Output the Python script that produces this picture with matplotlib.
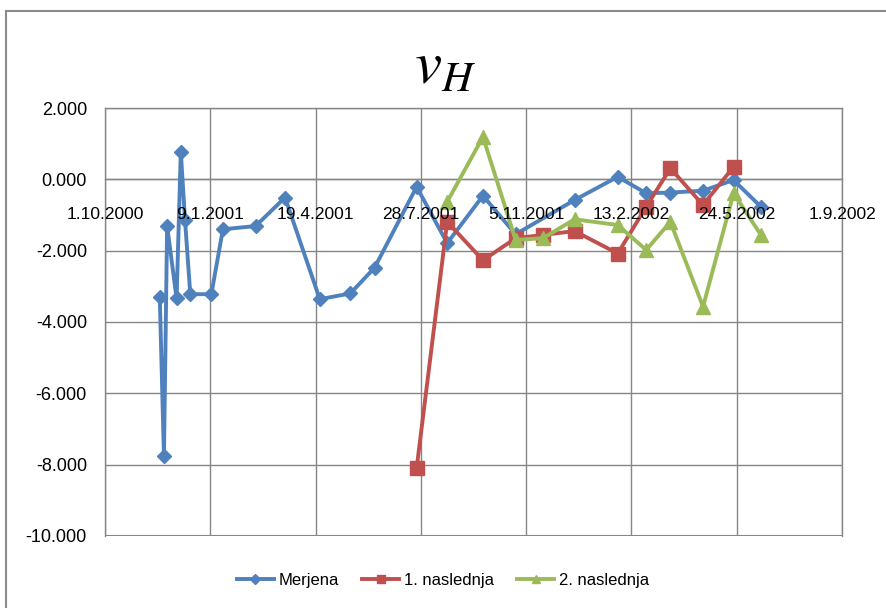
import datetime as dt
import matplotlib
matplotlib.use('Agg')
import matplotlib.pyplot as plt
from matplotlib.patches import Rectangle
from matplotlib.lines import Line2D

plt.rcParams['font.family'] = ['Liberation Sans', 'DejaVu Sans']
plt.rcParams['mathtext.fontset'] = 'stix'

# izmerjene vrednosti
merjena_dates = ['2000-11-22', '2000-11-26', '2000-11-29', '2000-12-08', '2000-12-12',
                 '2000-12-16', '2000-12-21', '2001-01-10', '2001-01-21', '2001-02-21',
                 '2001-03-21', '2001-04-23', '2001-05-22', '2001-06-14', '2001-07-24',
                 '2001-08-22', '2001-09-25', '2001-10-26', '2001-12-21', '2002-01-31',
                 '2002-02-27', '2002-03-22', '2002-04-22', '2002-05-21', '2002-06-16']
merjena = [-3.29, -7.76, -1.31, -3.34, 0.77,
           -1.14, -3.22, -3.22, -1.40, -1.31,
           -0.51, -3.36, -3.20, -2.48, -0.21,
           -1.79, -0.46, -1.54, -0.58, 0.07,
           -0.39, -0.37, -0.32, -0.02, -0.77]

# napoved za 1 korak naprej
nasl1_dates = ['2001-07-24', '2001-08-22', '2001-09-25', '2001-10-26', '2001-11-21',
               '2001-12-21', '2002-01-31', '2002-02-27', '2002-03-22', '2002-04-22',
               '2002-05-21']
nasl1 = [-8.10, -1.19, -2.27, -1.65, -1.56,
         -1.45, -2.08, -0.77, 0.31, -0.72,
         0.35]

# napoved za 2 koraka naprej
nasl2_dates = ['2001-08-22', '2001-09-25', '2001-10-26', '2001-11-21', '2001-12-21',
               '2002-01-31', '2002-02-27', '2002-03-22', '2002-04-22', '2002-05-21',
               '2002-06-16']
nasl2 = [-0.63, 1.19, -1.70, -1.65, -1.12,
         -1.28, -1.98, -1.19, -3.57, -0.39,
         -1.56]

tick_dates = ['2000-10-01', '2001-01-09', '2001-04-19', '2001-07-28',
              '2001-11-05', '2002-02-13', '2002-05-24', '2002-09-01']
tick_labels = ['1.10.2000', '9.1.2001', '19.4.2001', '28.7.2001',
               '5.11.2001', '13.2.2002', '24.5.2002', '1.9.2002']


def to_dates(lst):
    return [dt.datetime.strptime(s, '%Y-%m-%d') for s in lst]


blue, red, green = '#4F81BD', '#C0504D', '#9BBB59'
grid_c = '#868686'

fig = plt.figure(figsize=(8.86, 6.08), dpi=100)
ax = fig.add_axes([105 / 886, 1 - 536 / 608, 737 / 886, 428 / 608])

ax.plot(to_dates(merjena_dates), merjena, color=blue, lw=2.8, marker='D',
        ms=7.5, label='Merjena', zorder=3)
ax.plot(to_dates(nasl1_dates), nasl1, color=red, lw=2.8, marker='s',
        ms=10, label='1. naslednja', zorder=4)
ax.plot(to_dates(nasl2_dates), nasl2, color=green, lw=2.8, marker='^',
        ms=10.5, label='2. naslednja', zorder=5)

ax.set_xlim(to_dates(['2000-10-01', '2002-09-01']))
ax.set_ylim(-10, 2)
ax.set_xticks(to_dates(tick_dates))
ax.set_xticklabels(tick_labels)
ax.set_yticks(range(-10, 3, 2))
ax.set_yticklabels([f'{v:.3f}' for v in range(-10, 3, 2)])

# mreza pod krivuljami, datumi na osi pa nad njimi
ax.set_axisbelow(True)
ax.grid(True, axis='y', color=grid_c, lw=1)
for d in to_dates(tick_dates):
    ax.axvline(d, color=grid_c, lw=1, zorder=1)
ax.xaxis.set_zorder(10)

for s in ax.spines.values():
    s.set_color(grid_c)
    s.set_linewidth(1)
ax.spines['bottom'].set_position(('data', 0))
ax.axhline(-10, color=grid_c, lw=1.5, zorder=1)
ax.tick_params(axis='x', length=0, pad=20, labelsize=12.5, colors='black')
ax.tick_params(axis='y', length=0, pad=13, labelsize=13, colors='black')

fig.text(0.502, 1 - 68 / 608, r'$v_H$', fontsize=44, ha='center', va='center')

handles = [
    Line2D([], [], color=blue, lw=2.8, marker='D', ms=5),
    Line2D([], [], color=red, lw=2.8, marker='s', ms=6),
    Line2D([], [], color=green, lw=2.8, marker='^', ms=6),
]
fig.legend(handles, ['Merjena', '1. naslednja', '2. naslednja'], loc='center',
           bbox_to_anchor=(0.5, 1 - 580 / 608), ncol=3, frameon=False,
           fontsize=12, handlelength=2.2, handletextpad=0.3, columnspacing=1.4)

# okvir grafikona
fig.patches.append(Rectangle((6 / 886, -0.05), 1.1, 1 - 11 / 608 + 0.05,
                             transform=fig.transFigure, fill=False,
                             edgecolor='#8a8a8a', lw=1.5))

fig.savefig('out.png', dpi=100)
